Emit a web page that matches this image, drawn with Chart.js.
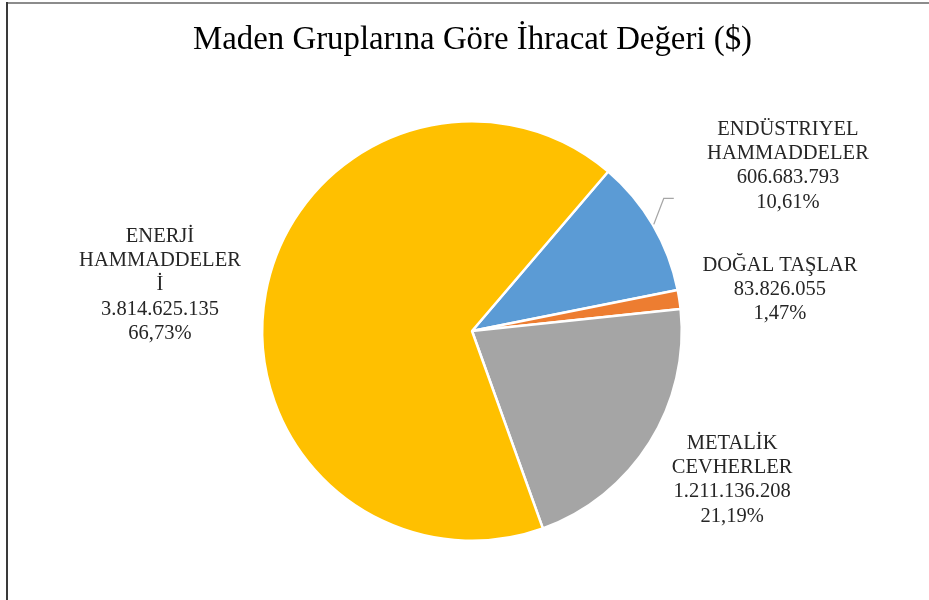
<!DOCTYPE html>
<html><head><meta charset="utf-8">
<script src="https://cdn.jsdelivr.net/npm/chart.js@4"></script>
<style>html,body{margin:0;padding:0;background:#fff;}#wrap{width:929px;height:600px;position:relative;}</style>
</head><body><div id="wrap"><canvas id="c" width="929" height="600"></canvas></div>
<script>
const categories = [["ENDÜSTRIYEL","HAMMADDELER"],["DOĞAL TAŞLAR"],["METALİK","CEVHERLER"],["ENERJİ","HAMMADDELER","İ"]];
const values = [606683793, 83826055, 1211136208, 3814625135];
const valueLabels = ["606.683.793","83.826.055","1.211.136.208","3.814.625.135"];
const percentLabels = ["10,61%","1,47%","21,19%","66,73%"];
const colors = ["#5B9BD5","#ED7D31","#A5A5A5","#FFC000"];
const titleText = "Maden Gruplarına Göre İhracat Değeri ($)";

const labelDist = [356.5, 310.7, 299.7, 315.4];
const labelAngleAdj = [2.8, 1.0, -2.35, -2.0];

const deco = {
  id:'deco',
  beforeDraw(chart){
    const ctx = chart.ctx;
    ctx.save();
    ctx.fillStyle='#fff'; ctx.fillRect(0,0,chart.width,chart.height);
    ctx.fillStyle='#8c8c8c'; ctx.fillRect(6,2,chart.width-6,2);
    ctx.fillStyle='#3a3a3a'; ctx.fillRect(6,2,2,chart.height-2);
    ctx.restore();
  },
  afterDraw(chart){
    const ctx = chart.ctx;
    ctx.save();
    ctx.font = '34px "Liberation Serif"';
    ctx.fillStyle = '#000';
    ctx.textAlign='center'; ctx.textBaseline='alphabetic';
    const w = ctx.measureText(titleText).width;
    const sx = 559 / w;
    ctx.translate(472.5, 49); ctx.scale(sx,1);
    ctx.fillText(titleText, 0, 0);
    ctx.restore();
    const meta = chart.getDatasetMeta(0);
    ctx.save();
    ctx.font = '20.5px "Liberation Serif"';
    ctx.fillStyle = '#262626';
    ctx.textAlign='center'; ctx.textBaseline='middle';
    meta.data.forEach((arc,i)=>{
      const p = arc.getProps(['x','y','startAngle','endAngle','outerRadius'],true);
      const mid = (p.startAngle+p.endAngle)/2;
      const a = mid + labelAngleAdj[i]*Math.PI/180;
      const cx = p.x + Math.cos(a)*labelDist[i];
      const cy = p.y + Math.sin(a)*labelDist[i];
      const lines = [...categories[i], valueLabels[i], percentLabels[i]];
      const lh = 24.2;
      const top = cy - (lines.length-1)*lh/2;
      lines.forEach((t,j)=>ctx.fillText(t, cx, top + j*lh));
      if(i===0){
        const ex = p.x + Math.cos(mid)*(p.outerRadius+1);
        const ey = p.y + Math.sin(mid)*(p.outerRadius+1);
        ctx.strokeStyle='#a6a6a6'; ctx.lineWidth=1.3;
        ctx.beginPath(); ctx.moveTo(ex,ey); ctx.lineTo(ex+10,ey-26); ctx.lineTo(ex+20,ey-26); ctx.stroke();
      }
    });
    ctx.restore();
  }
};

new Chart(document.getElementById('c'), {
  type:'pie',
  data:{ labels: categories.map(c=>c.join(' ')), datasets:[{ data: values, backgroundColor: colors, borderColor:'#fff', borderWidth:2.5 }]},
  options:{
    responsive:false, animation:false,
    rotation: 40.5,
    layout:{ padding:{ top:120, bottom:58, left:15, right:0 } },
    plugins:{ legend:{display:false}, tooltip:{enabled:false}, title:{display:false} }
  },
  plugins:[deco]
});
</script></body></html>
